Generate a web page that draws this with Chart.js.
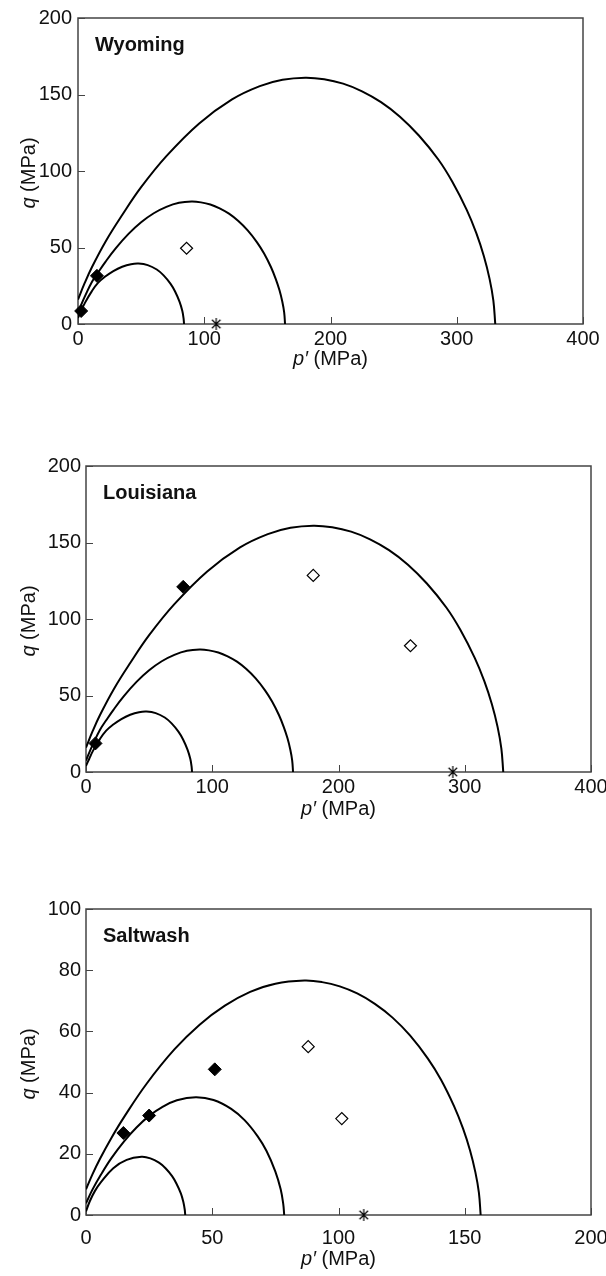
<!DOCTYPE html>
<html>
<head>
<meta charset="utf-8">
<script src="https://cdn.jsdelivr.net/npm/chart.js@4.4.1/dist/chart.umd.min.js"></script>
<style>
  html, body { margin: 0; padding: 0; background: #fff; }
  body { width: 606px; height: 1276px; overflow: hidden; position: relative; }
  .panel { position: absolute; left: 0; width: 640px; }
</style>
</head>
<body>
<div class="panel" style="top:0px"><canvas id="wyoming" width="640" height="380"></canvas></div>
<div class="panel" style="top:440px"><canvas id="louisiana" width="640" height="390"></canvas></div>
<div class="panel" style="top:880px"><canvas id="saltwash" width="640" height="396"></canvas></div>

<script>
/*********************************
 DATA  (p' MPa, q MPa)
*********************************/
// yield caps shared by Wyoming and Louisiana
const capInner = [[0,4],[2.5,8.5],[5.5,13.8],[11,21.5],[16,27],[21.6,31],[28,34.6],[35,37.4],[42,39.1],[48,39.5],
  [55.2,38.5],[62.4,35.6],[67.8,31.8],[73.2,26.4],[76.8,21.4],[80.4,14.6],[82.6,8.6],[83.6,3.8],[84,0]];
const capMiddle = [[0,7.5],[3,13.5],[6,19],[11,27.5],[16,33.8],[21.6,40.5],[30,49.6],[40,58.9],[50,66.5],
  [60,72.4],[70,76.6],[80,79.2],[90,80],
  [97.4,79.5],[104.8,78.1],[112.2,75.6],[119.6,72.1],[127,67.3],[134.4,61.2],[141.8,53.4],[147.4,46.1],
  [152.9,37.1],[156.6,29.5],[159.6,22],[161.8,14.7],[163.3,7.6],[164,0]];
const capOuter = [[0,16],[5,26.2],[11,37.1],[22,54.1],[35,71.2],[50,89.4],[70,109.7],[96,131.1],[122,146.8],
  [144,155.5],[162,159.6],[180,161],
  [195,160],[210,157.1],[225,152.1],[240,145],[255,135.5],[270,123.2],[285.4,107.5],[296.6,92.8],
  [307.9,74.6],[315.5,59.4],[321.5,44.3],[326,29.5],[329,15.3],[330.5,0]];

// Saltwash caps
const saltInner = [[0,1.2],[1.5,4.5],[3.5,7.8],[6,10.8],[10.8,15.3],[16.1,18],[22,19],
  [25.5,18.5],[28.9,17.1],[31.5,15.3],[34.1,12.7],[35.8,10.3],[37.6,7],[38.6,4.1],[39.1,1.8],[39.3,0]];
const saltMiddle = [[0,3.8],[2.5,8.2],[6,13.3],[10,18.5],[15,24],[20,28.6],[25,32.4],[30,35.2],[36,37.5],[43.5,38.5],
  [50.5,37.6],[57.5,34.7],[62.8,31],[68,25.7],[71.5,20.9],[75,14.2],[77.1,8.4],[78.1,3.7],[78.5,0]];
const saltOuter = [[0,8.4],[2.5,13.2],[5.5,18.3],[10,25.1],[15,31.9],[24,42.9],[35,54.1],[45,62.2],[55,68.4],
  [65,72.9],[75,75.6],[86.5,76.6],
  [93.5,76.1],[100.5,74.7],[107.4,72.4],[114.4,69],[121.4,64.5],[128.4,58.6],[135.4,51.1],[140.6,44.2],
  [145.8,35.5],[149.3,28.3],[152.1,21.1],[154.2,14],[155.6,7.3],[156.3,0]];

// test points
const wyomingSolid = [[2.5,8.5],[15,31.5]];
const wyomingOpen  = [[86,49.5]];
const wyomingStar  = [[109.5,0]];

const louisianaSolid = [[7.5,18.7],[77,121]];
const louisianaOpen  = [[180,128.5],[257,82.5]];
const louisianaStar  = [[290.5,0]];

const saltwashSolid = [[14.8,26.8],[25,32.5],[51,47.6]];
const saltwashOpen  = [[88,55],[101.3,31.5]];
const saltwashStar  = [[110,0]];

// axis ranges: [min, max, step]
const pRangeWide = [0, 400, 100];
const qRangeWide = [0, 200, 50];
const pRangeSalt = [0, 200, 50];
const qRangeSalt = [0, 100, 20];

/*********************************
 STYLE
*********************************/
const FONT = "'Liberation Sans', Arial, Helvetica, sans-serif";
const FS = 20;
const TEXT = '#111';
const FRAME = '#444';

function toXY(arr) {
  return arr.map(d => ({ x: d[0], y: d[1] }));
}

// excel-like asterisk marker
function asteriskMark(r) {
  const c = document.createElement('canvas');
  c.width = c.height = 2 * r + 2;
  const g = c.getContext('2d');
  const m = r + 1;
  const d = r * Math.SQRT1_2;
  g.strokeStyle = '#000';
  g.lineWidth = 1.2;
  g.beginPath();
  g.moveTo(m, m - r); g.lineTo(m, m + r);
  g.moveTo(m - d, m - d); g.lineTo(m + d, m + d);
  g.moveTo(m - d, m + d); g.lineTo(m + d, m - d);
  g.stroke();
  return c;
}
const STAR = asteriskMark(6);

/*********************************
 FRAME, TICKS, TEXT
*********************************/
const panelDecor = {
  id: 'panelDecor',
  beforeDatasetsDraw(chart) {
    const { ctx, chartArea: a, scales: { x, y } } = chart;
    ctx.save();
    ctx.strokeStyle = FRAME;
    ctx.lineWidth = 1.5;
    ctx.strokeRect(a.left, a.top, a.right - a.left, a.bottom - a.top);
    ctx.lineWidth = 1;
    ctx.beginPath();
    x.ticks.forEach(t => {
      const px = Math.round(x.getPixelForValue(t.value)) + 0.5;
      ctx.moveTo(px, a.bottom); ctx.lineTo(px, a.bottom - 7);
    });
    y.ticks.forEach(t => {
      const py = Math.round(y.getPixelForValue(t.value)) + 0.5;
      ctx.moveTo(a.left, py); ctx.lineTo(a.left + 7, py);
    });
    ctx.stroke();
    ctx.restore();
  },
  afterDraw(chart, args, opts) {
    const { ctx, chartArea: a } = chart;
    ctx.save();
    ctx.fillStyle = TEXT;
    ctx.textBaseline = 'middle';

    // site name
    ctx.font = `bold ${FS}px ${FONT}`;
    ctx.textAlign = 'left';
    ctx.fillText(opts.name, a.left + 17, a.top + 27);

    // x title: p' (MPa)
    const ital = `italic ${FS}px ${FONT}`, reg = `${FS}px ${FONT}`;
    ctx.font = ital;
    const wp = ctx.measureText("p\u2032").width;
    ctx.font = reg;
    const wr = ctx.measureText(" (MPa)").width;
    let x0 = (a.left + a.right) / 2 - (wp + wr) / 2;
    const ty = a.bottom + opts.xTitleGap;
    ctx.font = ital; ctx.fillText("p\u2032", x0, ty);
    ctx.font = reg; ctx.fillText(" (MPa)", x0 + wp, ty);

    // y title: q (MPa)
    ctx.translate(29, (a.top + a.bottom) / 2 + 2);
    ctx.rotate(-Math.PI / 2);
    ctx.font = ital;
    const wq = ctx.measureText("q").width;
    ctx.font = reg;
    const wm = ctx.measureText(" (MPa)").width;
    x0 = -(wq + wm) / 2;
    ctx.font = ital; ctx.fillText("q", x0, 0);
    ctx.font = reg; ctx.fillText(" (MPa)", x0 + wq, 0);
    ctx.restore();
  }
};

/*********************************
 PANELS
*********************************/
function makePanel(id, p) {
  const curve = data => ({
    data: toXY(data), showLine: true, pointRadius: 0, borderColor: '#000',
    borderWidth: 2, tension: 0.4, fill: false
  });
  const canvas = document.getElementById(id);
  new Chart(canvas, {
    type: 'scatter',
    data: {
      datasets: [
        { data: toXY(p.solid), pointStyle: 'rectRot', pointRadius: 6.5, backgroundColor: '#000', borderColor: '#000', borderWidth: 1, clip: false },
        { data: toXY(p.open), pointStyle: 'rectRot', pointRadius: 6, backgroundColor: '#fff', borderColor: '#000', borderWidth: 1.2, clip: false },
        { data: toXY(p.star), pointStyle: STAR, pointRadius: 6, clip: false },
        curve(p.inner), curve(p.middle), curve(p.outer)
      ]
    },
    options: {
      responsive: false,
      animation: false,
      events: [],
      layout: { padding: { left: 0, top: p.top, right: canvas.width - p.right, bottom: 0 } },
      plugins: {
        legend: { display: false },
        tooltip: { enabled: false },
        panelDecor: { name: p.name, xTitleGap: p.xTitleGap }
      },
      scales: {
        x: {
          type: 'linear', min: p.pRange[0], max: p.pRange[1],
          grid: { display: false, drawTicks: false }, border: { display: false },
          ticks: { stepSize: p.pRange[2], padding: p.xTickPad, color: TEXT, font: { family: FONT, size: FS } },
          afterFit: s => { s.height = canvas.height - p.bottom; }
        },
        y: {
          type: 'linear', min: p.qRange[0], max: p.qRange[1],
          grid: { display: false, drawTicks: false }, border: { display: false },
          ticks: { stepSize: p.qRange[2], padding: p.yTickPad, color: TEXT, font: { family: FONT, size: FS } },
          afterFit: s => { s.width = p.left; }
        }
      }
    },
    plugins: [panelDecor]
  });
}

makePanel('wyoming', {
  name: 'Wyoming', left: 78, right: 583, top: 17, bottom: 324,
  pRange: pRangeWide, qRange: qRangeWide, xTickPad: 3, yTickPad: 6, xTitleGap: 35,
  inner: capInner, middle: capMiddle, outer: capOuter,
  solid: wyomingSolid, open: wyomingOpen, star: wyomingStar
});

makePanel('louisiana', {
  name: 'Louisiana', left: 86, right: 591, top: 26, bottom: 332,
  pRange: pRangeWide, qRange: qRangeWide, xTickPad: 3, yTickPad: 5, xTitleGap: 37,
  inner: capInner, middle: capMiddle, outer: capOuter,
  solid: louisianaSolid, open: louisianaOpen, star: louisianaStar
});

makePanel('saltwash', {
  name: 'Saltwash', left: 86, right: 591, top: 29, bottom: 335,
  pRange: pRangeSalt, qRange: qRangeSalt, xTickPad: 11, yTickPad: 5, xTitleGap: 44,
  inner: saltInner, middle: saltMiddle, outer: saltOuter,
  solid: saltwashSolid, open: saltwashOpen, star: saltwashStar
});
</script>
</body>
</html>
